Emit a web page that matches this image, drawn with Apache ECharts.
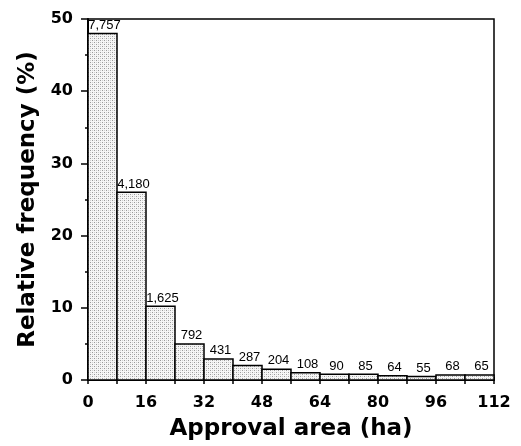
<!DOCTYPE html>
<html>
<head>
<meta charset="utf-8">
<script src="https://cdn.jsdelivr.net/npm/echarts@6/dist/echarts.min.js"></script>
<style>
  html, body { margin: 0; padding: 0; background: #fff; }
  #chart { width: 521px; height: 446px; }
</style>
</head>
<body>
<div id="chart"></div>
<script>
// bins are 8 ha wide
const binStart = [0, 8, 16, 24, 32, 40, 48, 56, 64, 72, 80, 88, 96, 104];
const binWidth = 8;
const percents = [48, 26, 10.2, 5.0, 2.9, 2.0, 1.5, 1.0, 0.8, 0.8, 0.6, 0.5, 0.7, 0.7];
const countLabels = ['7,757', '4,180', '1,625', '792', '431', '287', '204', '108', '90', '85', '64', '55', '68', '65'];

// stippled grey fill like the scanned figure
const makePattern = () => {
  const c = document.createElement('canvas');
  c.width = 4;
  c.height = 4;
  const ctx = c.getContext('2d');
  ctx.fillStyle = '#f6f6f6';
  ctx.fillRect(0, 0, 4, 4);
  ctx.fillStyle = '#9a9a9a';
  ctx.fillRect(0, 0, 1, 1);
  ctx.fillRect(2, 2, 1, 1);
  ctx.fillStyle = '#d0d0d0';
  ctx.fillRect(2, 0, 1, 1);
  ctx.fillRect(0, 2, 1, 1);
  return c;
};
const pattern = { image: makePattern(), repeat: 'repeat' };

const chart = echarts.init(document.getElementById('chart'));

const tickFont = {
  color: '#000',
  fontFamily: 'DejaVu Sans',
  fontWeight: 'bold',
  fontSize: 16
};

const options = {
  animation: false,
  grid: {
    left: 88,
    right: 27,
    top: 19,
    bottom: 63,
    show: true,
    borderColor: '#000',
    borderWidth: 1.5
  },
  xAxis: [
    {
      type: 'value',
      min: 0,
      max: 112,
      interval: 16,
      name: 'Approval area (ha)',
      nameLocation: 'middle',
      nameGap: 38,
      nameTextStyle: {
        color: '#000',
        fontFamily: 'DejaVu Sans',
        fontWeight: 'bold',
        fontSize: 23
      },
      axisLine: { show: true, onZero: false, lineStyle: { color: '#000', width: 2 } },
      axisTick: { show: true, length: 4, lineStyle: { color: '#000', width: 1.5 } },
      minorTick: { show: true, splitNumber: 2, length: 4, lineStyle: { color: '#000', width: 1.5 } },
      axisLabel: Object.assign({ margin: 15 }, tickFont),
      splitLine: { show: false },
      minorSplitLine: { show: false }
    },
    {
      // second copy only for the ticks that poke up inside the plot
      type: 'value',
      position: 'bottom',
      min: 0,
      max: 112,
      interval: 8,
      axisLine: { show: false, onZero: false },
      axisTick: { show: true, inside: true, length: 3, lineStyle: { color: '#000', width: 1.5 } },
      axisLabel: { show: false },
      splitLine: { show: false }
    }
  ],
  yAxis: {
    type: 'value',
    min: 0,
    max: 50,
    interval: 10,
    name: 'Relative frequency (%)',
    nameLocation: 'middle',
    nameGap: 48,
    nameTextStyle: {
      color: '#000',
      fontFamily: 'DejaVu Sans',
      fontWeight: 'bold',
      fontSize: 23
    },
    axisLine: { show: true, lineStyle: { color: '#000', width: 2 } },
    axisTick: { show: true, length: 7, lineStyle: { color: '#000', width: 1.5 } },
    minorTick: { show: true, splitNumber: 2, length: 3, lineStyle: { color: '#000', width: 1.5 } },
    axisLabel: Object.assign({ margin: 15 }, tickFont),
    splitLine: { show: false },
    minorSplitLine: { show: false }
  },
  series: [
    {
      type: 'custom',
      xAxisIndex: 0,
      data: binStart.map((s, i) => [s, s + binWidth, percents[i], i]),
      renderItem: (params, api) => {
        const topLeft = api.coord([api.value(0), api.value(2)]);
        const bottomRight = api.coord([api.value(1), 0]);
        const idx = api.value(3);
        return {
          type: 'rect',
          shape: {
            x: topLeft[0],
            y: topLeft[1],
            width: bottomRight[0] - topLeft[0],
            height: bottomRight[1] - topLeft[1]
          },
          style: {
            fill: pattern,
            stroke: '#000',
            lineWidth: 1.5
          },
          textContent: {
            style: {
              text: countLabels[idx],
              fill: '#000',
              fontFamily: 'Liberation Sans',
              fontSize: 13
            }
          },
          textConfig: {
            position: 'top',
            distance: 1,
            offset: [2, 0]
          }
        };
      }
    }
  ]
};

chart.setOption(options);
</script>
</body>
</html>
